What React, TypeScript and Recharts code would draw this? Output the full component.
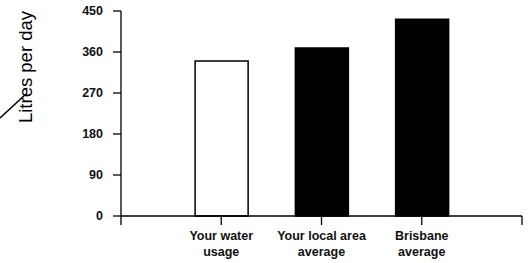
import React from "react";
import { BarChart, Bar, XAxis, YAxis, Cell } from "recharts";

const categories = ["", "Your water usage", "Your local area average", "Brisbane average", ""];
const labelLines: string[][] = [[], ["Your water", "usage"], ["Your local area", "average"], ["Brisbane", "average"], []];
const values: (number | null)[] = [null, 340, 369, 432, null];
const fills = ["none", "#ffffff", "#000000", "#000000", "none"];
const yTicks = [0, 90, 180, 270, 360, 450];
const xTicks = [0, 1, 2, 3, 4];

const data = categories.map((c, i) => ({ name: c, idx: i, value: values[i] }));

const FONT = "'Liberation Sans', Arial, Helvetica, sans-serif";

const XTick = (props: any) => {
  const { x, y, payload } = props;
  const lines = labelLines[payload.value] || [];
  return (
    <g>
      <text x={x} y={y + 13} textAnchor="middle" fontFamily={FONT} fontSize={12.5} fontWeight="bold" fill="#111">
        {lines.map((l, k) => (
          <tspan key={k} x={x} dy={k === 0 ? 0 : 16}>
            {l}
          </tspan>
        ))}
      </text>
    </g>
  );
};

const YLabel = () => (
  <text
    x={32}
    y={67}
    transform="rotate(-90 32 67)"
    textAnchor="middle"
    fontFamily={FONT}
    fontSize={18.5}
    fill="#000"
  >
    Litres per day
  </text>
);

export default function App() {
  return (
    <div style={{ position: "absolute", left: 0, top: 0, width: 531, height: 263, background: "#fff" }}>
      <BarChart
        width={531}
        height={263}
        data={data}
        margin={{ top: 11, right: 9, bottom: 0, left: 0 }}
      >
        <XAxis
          dataKey="idx"
          type="number"
          domain={[0, 4]}
          ticks={xTicks}
          interval={0}
          height={47}
          tickSize={9}
          tick={<XTick />}
          axisLine={{ stroke: "#000", strokeWidth: 1.3 }}
          tickLine={{ stroke: "#000", strokeWidth: 1.3 }}
        />
        <YAxis
          width={121}
          domain={[0, 450]}
          ticks={yTicks}
          interval={0}
          tickSize={8}
          tickMargin={10}
          tick={{ fontFamily: FONT, fontSize: 12.5, fontWeight: "bold", fill: "#111" }}
          axisLine={{ stroke: "#000", strokeWidth: 1.3 }}
          tickLine={{ stroke: "#000", strokeWidth: 1.3 }}
          label={<YLabel />}
        />
        <Bar dataKey="value" barSize={53} isAnimationActive={false} stroke="#000" strokeWidth={1.5}>
          {data.map((d, i) => (
            <Cell key={i} fill={fills[i]} />
          ))}
        </Bar>
      </BarChart>
      <svg width={531} height={263} style={{ position: "absolute", left: 0, top: 0, pointerEvents: "none" }}>
        <line x1={0} y1={118} x2={26} y2={94} stroke="#000" strokeWidth={1.6} />
      </svg>
    </div>
  );
}
